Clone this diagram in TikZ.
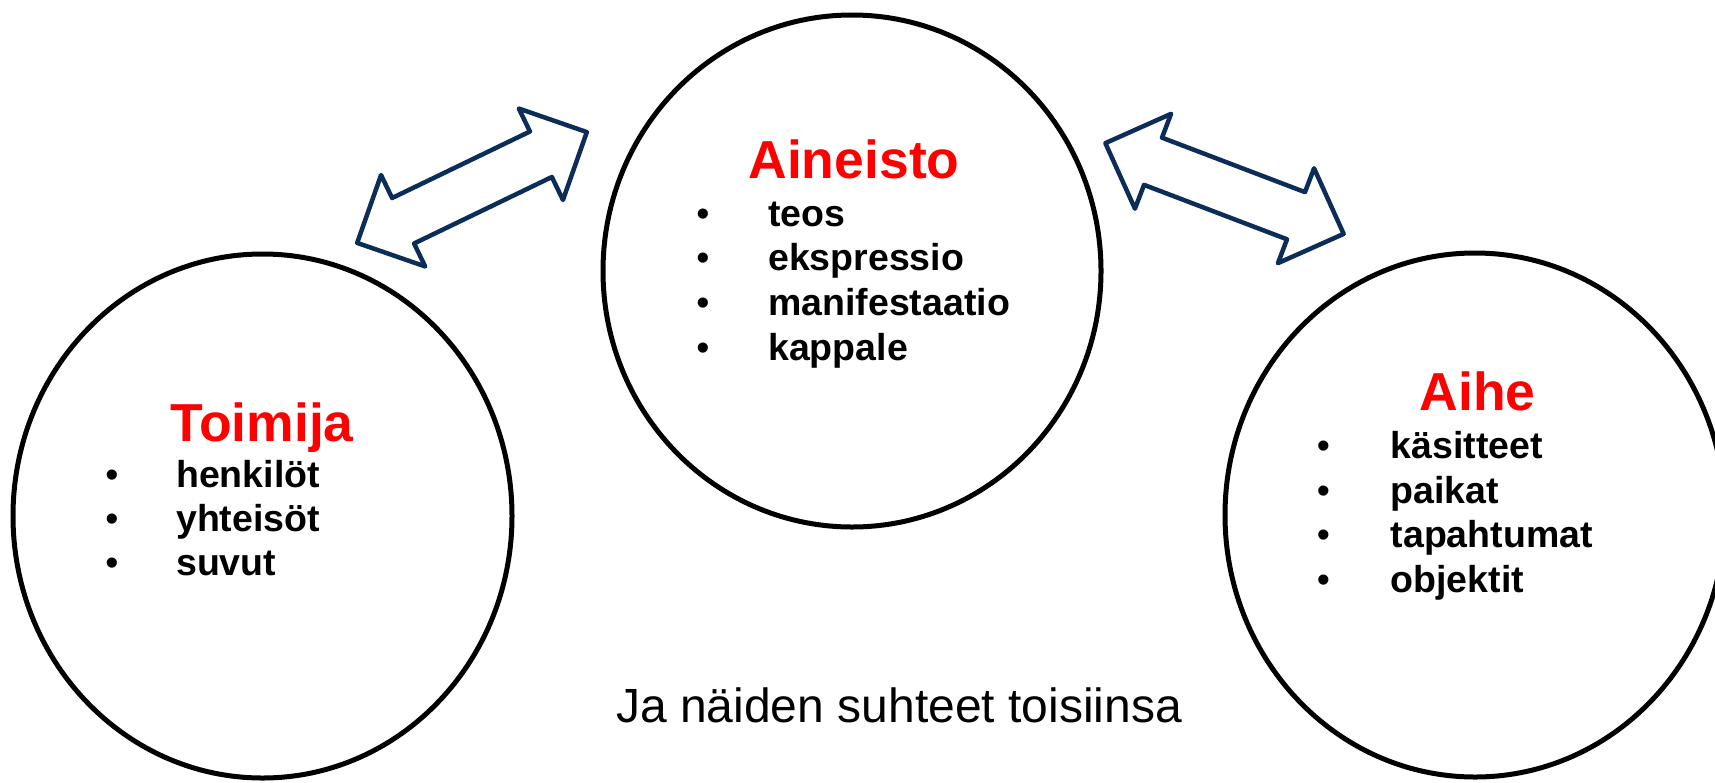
\documentclass[tikz,border=0pt]{standalone}
\usepackage{fontspec}
\setmainfont{Liberation Sans}
\usetikzlibrary{shapes.geometric}
\definecolor{navy}{RGB}{12,45,88}
\definecolor{titlered}{RGB}{255,0,0}
\tikzset{
  ring/.style={draw=black, line width=5pt, ellipse, inner sep=0pt},
  ttl/.style={anchor=base, inner sep=0pt, text=titlered, font=\fontsize{53.5}{60}\selectfont\bfseries},
  itm/.style={anchor=base west, inner sep=0pt, font=\fontsize{37.5}{42}\selectfont\bfseries},
  bul/.style={anchor=base, inner sep=0pt, font=\fontsize{37.5}{42}\selectfont},
  dblarrow/.style={draw=navy, line width=4.5pt, line join=round, fill=white},
  note/.style={anchor=base west, inner sep=0pt, font=\fontsize{48}{54}\selectfont}
}
\newcommand{\blockarrow}{%
  (127.5,0) -- (76.5,50.75) -- (76.5,25.25) -- (-76.5,25.25) -- (-76.5,50.75) -- (-127.5,0)
  -- (-76.5,-50.75) -- (-76.5,-25.25) -- (76.5,-25.25) -- (76.5,-50.75) -- cycle}
\begin{document}
\begin{tikzpicture}[x=1pt,y=-1pt]
\useasboundingbox (0,0) rectangle (1715,782);
\fill[white] (0,0) rectangle (1715,782);

% circles
\node[ring, minimum width=499pt, minimum height=524pt] (toimija) at (262.5,516) {};
\node[ring, minimum width=498pt, minimum height=512pt] (aineisto) at (852,271) {};
\node[ring, minimum width=500pt, minimum height=524pt] (aihe) at (1475,515) {};

% block arrows
\coordinate (arrA) at (472,187.5);
\coordinate (arrB) at (1224.5,188.5);
\begin{scope}[shift={(arrA)}, rotate=25.76]
  \draw[dblarrow] \blockarrow;
\end{scope}
\begin{scope}[shift={(arrB)}, rotate=-20.85]
  \draw[dblarrow] \blockarrow;
\end{scope}

% Toimija
\node[ttl] (t0) at (262,441) {Toimija};
\node[bul] (tb1) at (112,487) {•};
\node[bul] (tb2) at (112,531) {•};
\node[bul] (tb3) at (112,575) {•};
\node[itm] (t1) at (176,487) {henkilöt};
\node[itm] (t2) at (176,531) {yhteisöt};
\node[itm] (t3) at (176,575) {suvut};

% Aineisto
\node[ttl] (a0) at (854,178) {Aineisto};
\node[bul] (ab1) at (703,226) {•};
\node[bul] (ab2) at (703,270) {•};
\node[bul] (ab3) at (703,315) {•};
\node[bul] (ab4) at (703,360) {•};
\node[itm] (a1) at (768,226) {teos};
\node[itm] (a2) at (768,270) {ekspressio};
\node[itm] (a3) at (768,315) {manifestaatio};
\node[itm] (a4) at (768,360) {kappale};

% Aihe
\node[ttl] (h0) at (1477.5,410) {Aihe};
\node[bul] (hb1) at (1323.5,458) {•};
\node[bul] (hb2) at (1323.5,503) {•};
\node[bul] (hb3) at (1323.5,547) {•};
\node[bul] (hb4) at (1323.5,592) {•};
\node[itm] (h1) at (1390.5,458) {käsitteet};
\node[itm] (h2) at (1390.5,503) {paikat};
\node[itm] (h3) at (1390.5,547) {tapahtumat};
\node[itm] (h4) at (1390.5,592) {objektit};

% bottom note
\node[note] (nt) at (616,722) {Ja näiden suhteet toisiinsa};
\end{tikzpicture}
\end{document}
